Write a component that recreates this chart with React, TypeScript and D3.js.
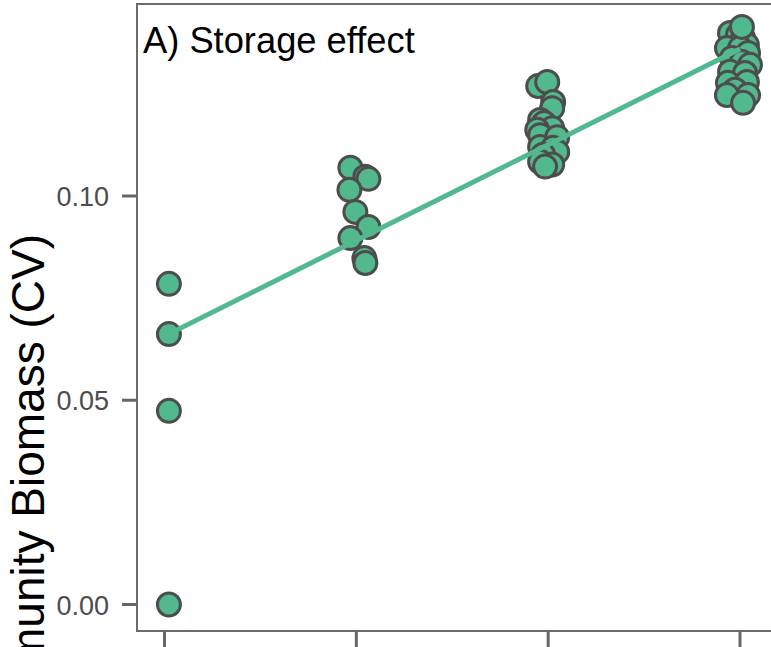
import React, { useEffect, useRef } from 'react';
import * as d3 from 'd3';

// x groups and tick labels
const groups = [1, 2, 3, 4];
const yTicks = [0, 0.05, 0.1];
const yTickLabels = ['0.00', '0.05', '0.10'];

// jittered positions, one pair of arrays per group
const g1X = [1.023, 1.023, 1.023, 1.023];
const g1Y = [0.0785, 0.0662, 0.0474, 0.0];

const g2X = [1.969, 2.047, 2.063, 1.964, 1.995, 2.063, 1.969, 2.042, 2.047];
const g2Y = [0.1069, 0.1047, 0.1042, 0.1015, 0.0961, 0.0924, 0.0897, 0.0848, 0.0836];

const g3X = [2.948, 2.995, 3.026, 3.021, 2.958, 2.979, 3.021, 2.943, 2.958, 3.047, 2.958, 3.026, 3.047, 2.974, 2.958, 3.021, 2.984];
const g3Y = [0.1269, 0.1279, 0.123, 0.1215, 0.1186, 0.1179, 0.1166, 0.1162, 0.1149, 0.1144, 0.112, 0.1118, 0.1108, 0.1101, 0.1084, 0.1077, 0.1072];

const g4X = [3.948, 3.99, 4.016, 4.036, 3.932, 4.0, 4.042, 3.958, 4.01, 4.052, 3.948, 4.026, 3.937, 4.036, 3.974, 4.042, 3.932, 4.016, 4.01];
const g4Y = [0.1399, 0.1395, 0.1387, 0.137, 0.1362, 0.1362, 0.135, 0.1338, 0.1328, 0.1321, 0.1304, 0.1301, 0.1277, 0.1279, 0.126, 0.1247, 0.1247, 0.1228, 0.1414];

// linear fit (start and end of the smooth)
const fitX = [1, 4];
const fitY = [0.0657, 0.136];

const App = () => {
  const ref = useRef<SVGGElement | null>(null);
  const width = 771;
  const height = 647;

  useEffect(() => {
    const panel = { left: 137, top: 4, bottom: 631, right: 790 };
    const green = '#52b98f';
    const dark = '#4d4d4d';
    const font = '"Liberation Sans", Arial, Helvetica, sans-serif';

    const x = d3.scaleLinear().domain([1, 4]).range([164.5, 740]);
    const y = d3.scaleLinear().domain([0, 0.1]).range([604.5, 196]);

    const g = d3.select(ref.current);
    g.selectAll('*').remove();

    // panel border
    g.append('rect')
      .attr('x', panel.left)
      .attr('y', panel.top)
      .attr('width', panel.right - panel.left)
      .attr('height', panel.bottom - panel.top)
      .attr('fill', 'none')
      .attr('stroke', '#6b6b6b')
      .attr('stroke-width', 2);

    // y ticks + labels
    g.selectAll('.ytick')
      .data(yTicks)
      .enter()
      .append('line')
      .attr('x1', panel.left - 15)
      .attr('x2', panel.left)
      .attr('y1', d => y(d))
      .attr('y2', d => y(d))
      .attr('stroke', '#666')
      .attr('stroke-width', 3);

    g.selectAll('.ylab')
      .data(yTicks)
      .enter()
      .append('text')
      .attr('x', 109)
      .attr('y', d => y(d) + 10)
      .attr('text-anchor', 'end')
      .attr('font-family', font)
      .attr('font-size', 27)
      .attr('fill', dark)
      .text((d, i) => yTickLabels[i]);

    // x ticks
    g.selectAll('.xtick')
      .data(groups)
      .enter()
      .append('line')
      .attr('x1', d => x(d))
      .attr('x2', d => x(d))
      .attr('y1', panel.bottom)
      .attr('y2', panel.bottom + 16)
      .attr('stroke', '#666')
      .attr('stroke-width', 3);

    // points
    const pts: { x: number; y: number }[] = [];
    [[g1X, g1Y], [g2X, g2Y], [g3X, g3Y], [g4X, g4Y]].forEach(([xs, ys]) => {
      xs.forEach((v, i) => pts.push({ x: v, y: ys[i] }));
    });

    g.selectAll('.pt')
      .data(pts)
      .enter()
      .append('circle')
      .attr('cx', d => x(d.x))
      .attr('cy', d => y(d.y))
      .attr('r', 11.5)
      .attr('fill', green)
      .attr('stroke', dark)
      .attr('stroke-width', 3);

    // fitted line
    const line = d3.line<number>()
      .x(d => x(d))
      .y((d, i) => y(fitY[i]));
    g.append('path')
      .attr('d', line(fitX))
      .attr('fill', 'none')
      .attr('stroke', green)
      .attr('stroke-width', 5);

    // panel label
    g.append('text')
      .attr('x', 143)
      .attr('y', 53)
      .attr('font-family', font)
      .attr('font-size', 36.3)
      .attr('fill', '#000')
      .text('A) Storage effect');

    // y axis title
    g.append('text')
      .attr('transform', 'translate(43.5,234) rotate(-90)')
      .attr('text-anchor', 'end')
      .attr('font-family', font)
      .attr('font-size', 46)
      .attr('fill', '#000')
      .text('Community Biomass (CV)');
  }, []);

  return (
    <svg
      width={width}
      height={height}
      style={{ position: 'absolute', left: 0, top: 0, background: '#fff' }}
    >
      <g ref={ref} />
    </svg>
  );
};

export default App;
